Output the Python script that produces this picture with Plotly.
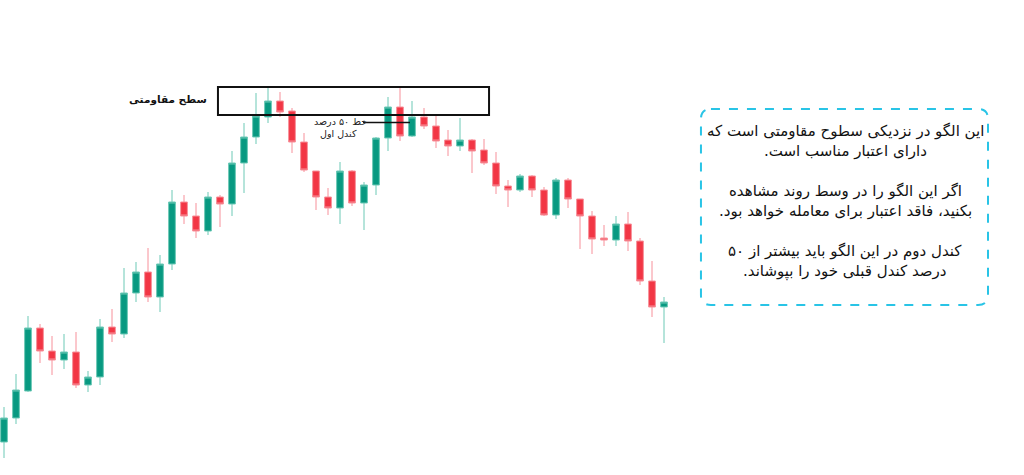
import plotly.graph_objects as go

# ---- data ----
idx = list(range(56))
open_ = [58, 82, 109, 172, 149, 140, 148, 115, 123, 173, 166, 207, 228, 203, 236, 298, 284, 269, 303, 296,
         337, 363, 383, 399, 389, 358, 329, 303, 292, 329, 297, 315, 362, 393, 364, 383, 374, 360, 354, 360,
         350, 337, 314, 310, 324, 310, 285, 320, 301, 284, 262, 260, 276, 259, 219, 193]
close = [82, 110, 172, 149, 140, 148, 115, 123, 173, 166, 207, 228, 203, 236, 298, 284, 269, 303, 296, 337,
         363, 384, 399, 388, 358, 330, 303, 292, 329, 297, 315, 362, 393, 364, 383, 374, 359, 354, 360, 349,
         337, 314, 310, 324, 310, 285, 320, 301, 284, 261, 260, 276, 259, 219, 193, 198]
high = [93, 126, 184, 176, 164, 166, 168, 129, 181, 191, 232, 238, 252, 245, 310, 305, 297, 308, 305, 349,
        377, 407, 413, 408, 392, 367, 329, 312, 338, 330, 318, 363, 403, 413, 399, 392, 385, 370, 382, 361,
        361, 348, 320, 326, 325, 313, 322, 322, 301, 289, 275, 284, 288, 262, 239, 203]
low = [42, 76, 108, 137, 125, 131, 112, 108, 115, 158, 162, 198, 198, 188, 230, 276, 262, 265, 273, 284,
       307, 356, 377, 383, 347, 328, 290, 285, 276, 294, 270, 305, 349, 359, 363, 371, 352, 344, 349, 327,
       335, 306, 293, 308, 303, 284, 281, 292, 251, 246, 254, 254, 249, 215, 183, 157]

resist_label = "سطح مقاومتی"
half_label_1 = "خط ۵۰ درصد"
half_label_2 = "کندل اول"
note_lines = [
    "این الگو در نزدیکی سطوح مقاومتی است که",
    "دارای اعتبار مناسب است.",
    "",
    "اگر این الگو را در وسط روند مشاهده",
    "بکنید، فاقد اعتبار برای معامله خواهد بود.",
    "",
    "کندل دوم در این الگو باید بیشتر از ۵۰",
    "درصد کندل قبلی خود را بپوشاند.",
]

RLM = "\u200f"
FONT = "DejaVu Sans"

fig = go.Figure()
fig.add_trace(go.Candlestick(
    x=idx, open=open_, high=high, low=low, close=close,
    increasing=dict(fillcolor="#089981", line=dict(color="#6cc9b6", width=1)),
    decreasing=dict(fillcolor="#f23645", line=dict(color="#f7909a", width=1)),
    whiskerwidth=0, showlegend=False, hoverinfo="skip",
))

# resistance box
fig.add_shape(type="rect", xref="x", yref="y", x0=17.83, x1=40.42, y0=385, y1=max(high),
              line=dict(color="#111111", width=2), fillcolor="rgba(0,0,0,0)")

# 50% line of the first candle of the pattern (candle 32)
mid = (open_[32] + close[32]) / 2
fig.add_shape(type="line", xref="x", yref="y", x0=29.92, x1=33.83, y0=mid, y1=mid,
              line=dict(color="#111111", width=1.5))

# rounded dashed note box
x0, x1, yt, yb = 58.08, 82.0, 391, 195
rx, ry = 10 / 12, 10
path = (f"M {x0+rx},{yt} L {x1-rx},{yt} Q {x1},{yt} {x1},{yt-ry} L {x1},{yb+ry} "
        f"Q {x1},{yb} {x1-rx},{yb} L {x0+rx},{yb} Q {x0},{yb} {x0},{yb+ry} "
        f"L {x0},{yt-ry} Q {x0},{yt} {x0+rx},{yt} Z")
fig.add_shape(type="path", xref="x", yref="y", path=path,
              line=dict(color="#29c4e6", width=2, dash="dash"))

annos = [
    dict(x=17.05, y=401, text="<b>" + resist_label + "</b>", xanchor="right",
         font=dict(size=10.5, color="#111111", family=FONT)),
    dict(x=30.45, y=379, text=half_label_1 + RLM, xanchor="right",
         font=dict(size=9.5, color="#222222", family=FONT)),
    dict(x=27.85, y=367, text=half_label_2 + RLM, xanchor="center",
         font=dict(size=9.5, color="#222222", family=FONT)),
]
for k, line in enumerate(note_lines):
    if not line:
        continue
    annos.append(dict(x=70.1, y=369 - 20 * k, text=RLM + line + RLM, xanchor="center",
                      font=dict(size=15, color="#111111", family=FONT)))
for a in annos:
    a.update(xref="x", yref="y", showarrow=False, yanchor="middle")
fig.update_layout(annotations=annos)

fig.update_layout(
    width=1024, height=475, margin=dict(l=0, r=0, t=0, b=0),
    paper_bgcolor="white", plot_bgcolor="white", boxgap=0.2,
    xaxis=dict(range=[-1/3, 85], visible=False, rangeslider=dict(visible=False), fixedrange=True),
    yaxis=dict(range=[25, 500], visible=False, fixedrange=True),
)
fig.write_html("out.html", config={"displayModeBar": False},
               post_script="document.body.style.margin='0px';")
